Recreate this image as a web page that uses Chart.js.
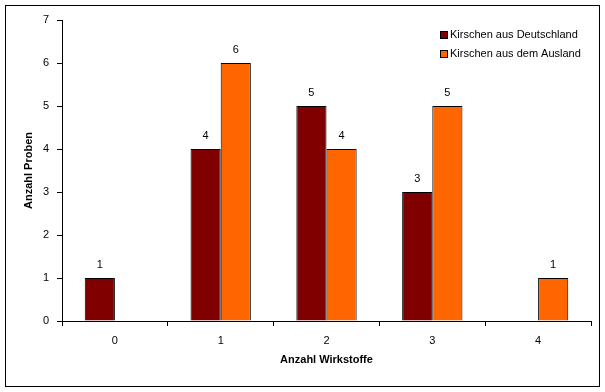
<!DOCTYPE html>
<html>
<head>
<meta charset="utf-8">
<script src="https://cdn.jsdelivr.net/npm/chart.js@4"></script>
<style>
  body { margin: 0; background: #fff; }
  #wrap { width: 605px; height: 392px; }
</style>
</head>
<body>
<div id="wrap"><canvas id="chart" width="605" height="392"></canvas></div>
<script>
// Werte aus der Vorlage
const categories = ['0', '1', '2', '3', '4'];
const seriesNames = ['Kirschen aus Deutschland', 'Kirschen aus dem Ausland'];
const deutschland = [1, 4, 5, 3, 0];
const ausland = [0, 6, 4, 5, 1];
const yTicks = [0, 1, 2, 3, 4, 5, 6, 7];

const FONT = '"Liberation Sans", Arial, sans-serif';

// Zahlen über den Balken (0 wird nicht beschriftet)
const valueLabels = {
    id: 'valueLabels',
    afterDatasetsDraw(chart) {
        const ctx = chart.ctx;
        ctx.save();
        ctx.font = '11px ' + FONT;
        ctx.fillStyle = '#000';
        ctx.textAlign = 'center';
        ctx.textBaseline = 'middle';
        chart.data.datasets.forEach((ds, i) => {
            chart.getDatasetMeta(i).data.forEach((bar, j) => {
                if (!ds.data[j]) return;
                ctx.fillText(ds.data[j], bar.x, bar.y - 13);
            });
        });
        ctx.restore();
    }
};

// Legende im Diagramm oben rechts + Rahmen
const boxLegend = {
    id: 'boxLegend',
    afterDraw(chart) {
        const ctx = chart.ctx;
        ctx.save();
        ctx.strokeStyle = '#000';
        ctx.lineWidth = 1;
        ctx.strokeRect(5.5, 5.5, 594, 381);
        ctx.font = '11px ' + FONT;
        ctx.textBaseline = 'middle';
        chart.data.datasets.forEach((ds, i) => {
            const y = 35 + i * 19;
            ctx.fillStyle = ds.backgroundColor;
            ctx.fillRect(441, y - 3, 6, 6);
            ctx.strokeRect(440.5, y - 3.5, 7, 7);
            ctx.fillStyle = '#000';
            ctx.fillText(ds.label, 450, y);
        });
        ctx.restore();
    }
};

new Chart(document.getElementById('chart'), {
    type: 'bar',
    data: {
        labels: categories,
        datasets: [
            { label: seriesNames[0], data: deutschland, backgroundColor: '#800000', borderColor: '#000', borderWidth: 1 },
            { label: seriesNames[1], data: ausland, backgroundColor: '#FF6600', borderColor: '#000', borderWidth: 1 }
        ]
    },
    options: {
        responsive: false,
        animation: false,
        layout: { padding: { left: 0, right: 14, top: 20, bottom: 0 } },
        categoryPercentage: 0.57,
        barPercentage: 1,
        plugins: {
            legend: { display: false },
            tooltip: { enabled: false }
        },
        scales: {
            x: {
                afterFit(scale) { scale.height = 71; },
                grid: { display: true, drawOnChartArea: false, color: '#000', tickLength: 5, offset: true },
                border: { display: true, color: '#000' },
                ticks: { color: '#000', font: { family: FONT, size: 11 }, padding: 8 },
                title: { display: true, text: 'Anzahl Wirkstoffe', color: '#000', font: { family: FONT, size: 11, weight: 'bold' }, padding: { top: 0, bottom: 25 } }
            },
            y: {
                min: 0,
                max: 7,
                afterFit(scale) { scale.width = 62; },
                afterBuildTicks(scale) { scale.ticks = yTicks.map(v => ({ value: v })); },
                grid: { display: true, drawOnChartArea: false, color: '#000', tickLength: 5 },
                border: { display: true, color: '#000' },
                ticks: { color: '#000', font: { family: FONT, size: 11 }, padding: 8 },
                title: { display: true, text: 'Anzahl Proben', color: '#000', font: { family: FONT, size: 11, weight: 'bold' }, padding: { top: 22, bottom: 0 } }
            }
        }
    },
    plugins: [valueLabels, boxLegend]
});
</script>
</body>
</html>
